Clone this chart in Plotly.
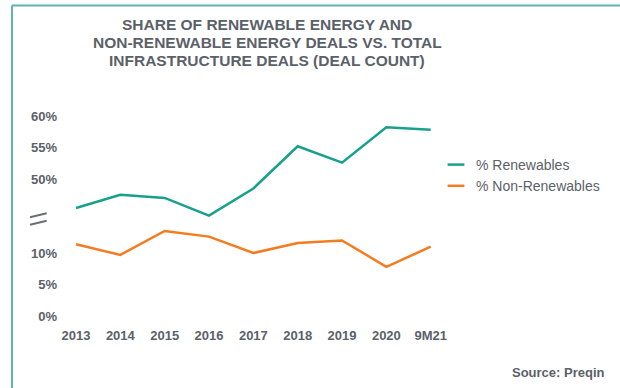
import plotly.graph_objects as go

W, H = 620, 388

# ---- data ----
categories = ["2013", "2014", "2015", "2016", "2017", "2018", "2019", "2020", "9M21"]
renewables = [45.4, 47.5, 47.0, 44.2, 48.5, 55.2, 52.6, 58.2, 57.8]
non_renewables = [11.4, 9.7, 13.5, 12.6, 10.0, 11.6, 12.0, 7.8, 11.0]
lower_ticks = [0, 5, 10]
upper_ticks = [50, 55, 60]
title_lines = [
    "SHARE OF RENEWABLE ENERGY AND",
    "NON-RENEWABLE ENERGY DEALS VS. TOTAL",
    "INFRASTRUCTURE DEALS (DEAL COUNT)",
]
series_names = ["% Renewables", "% Non-Renewables"]
source_text = "Source: Preqin"

# ---- style ----
TEAL = "#17a08c"
ORANGE = "#f57b20"
TEXT = "#5b6169"
FRAME = "#5fb3ae"
FONT = "Liberation Sans, Arial, sans-serif"

def px_x(p):
    return p / W

def px_y(p):
    return 1 - p / H

PPP = 6.3  # pixels per percentage point
lower_range = [-1.5, 15.6]
upper_range = [43.8, 61.5]
lower_zero_px = 316
upper_50_px = 179
lower_dom = [px_y(lower_zero_px - lower_range[0] * PPP), px_y(lower_zero_px - lower_range[1] * PPP)]
upper_dom = [px_y(upper_50_px - (upper_range[0] - 50) * PPP), px_y(upper_50_px - (upper_range[1] - 50) * PPP)]

fig = go.Figure()
fig.add_trace(go.Scatter(x=categories, y=renewables, mode="lines", name=series_names[0],
                         line=dict(color=TEAL, width=2.5), yaxis="y2", showlegend=False))
fig.add_trace(go.Scatter(x=categories, y=non_renewables, mode="lines", name=series_names[1],
                         line=dict(color=ORANGE, width=2.5), yaxis="y", showlegend=False))
# legend entries with short line glyphs
for name, col in zip(series_names, [TEAL, ORANGE]):
    fig.add_trace(go.Scatter(x=[None], y=[None], mode="markers", name=name,
                             marker=dict(symbol="line-ew-open", size=12, color=col,
                                         line=dict(color=col, width=2.5)),
                             yaxis="y"))

step = 44.34
x_left = 76 - 0.5 * step
x_right = 430.7 + 0.5 * step

fig.update_layout(
    width=W, height=H,
    margin=dict(l=0, r=0, t=0, b=0),
    paper_bgcolor="white", plot_bgcolor="white",
    font=dict(family=FONT, color=TEXT),
    xaxis=dict(domain=[px_x(x_left), px_x(x_right)], range=[-0.5, 8.5], type="category",
               showgrid=False, zeroline=False, showline=False, ticks="",
               tickfont=dict(size=13, weight="bold", color=TEXT), anchor="y",
               automargin=False, ticklabelstandoff=1),
    yaxis=dict(domain=lower_dom, range=lower_range, tickvals=lower_ticks,
               ticktext=[f"{v}%" for v in lower_ticks], showgrid=False, zeroline=False,
               showline=False, ticks="", anchor="free", position=px_x(57),
               tickfont=dict(size=13, weight="bold", color=TEXT), automargin=False),
    yaxis2=dict(domain=upper_dom, range=upper_range, tickvals=upper_ticks,
                ticktext=[f"{v}%" for v in upper_ticks], showgrid=False, zeroline=False,
                showline=False, ticks="", anchor="free", position=px_x(57),
                tickfont=dict(size=13, weight="bold", color=TEXT), automargin=False),
    legend=dict(x=px_x(436), y=px_y(149), xanchor="left", yanchor="top",
                font=dict(size=14, color=TEXT, family=FONT), bgcolor="rgba(0,0,0,0)",
                itemwidth=30),
    hovermode=False,
)

# title lines
for i, line in enumerate(title_lines):
    fig.add_annotation(text=line, x=px_x(267), y=px_y(25 + 17.5 * i), xref="paper", yref="paper",
                       xanchor="center", yanchor="middle", showarrow=False,
                       font=dict(size=15.5, weight="bold", color=TEXT, family=FONT))

fig.add_annotation(text=source_text, x=px_x(607), y=px_y(372), xref="paper", yref="paper",
                   xanchor="right", yanchor="middle", showarrow=False,
                   font=dict(size=13, weight="bold", color=TEXT, family=FONT))

# frame
fig.add_shape(type="line", xref="paper", yref="paper", x0=px_x(12), x1=1, y0=px_y(5.5), y1=px_y(5.5),
              line=dict(color=FRAME, width=2))
fig.add_shape(type="line", xref="paper", yref="paper", x0=px_x(12), x1=px_x(12), y0=px_y(5.5), y1=0,
              line=dict(color=FRAME, width=2))
# axis break marks
for dy in (0, 7.5):
    fig.add_shape(type="line", xref="paper", yref="paper", x0=px_x(30), x1=px_x(46.7),
                  y0=px_y(217.3 + dy), y1=px_y(213.3 + dy), line=dict(color="#6a6f75", width=2))

fig.write_html("out.html")
